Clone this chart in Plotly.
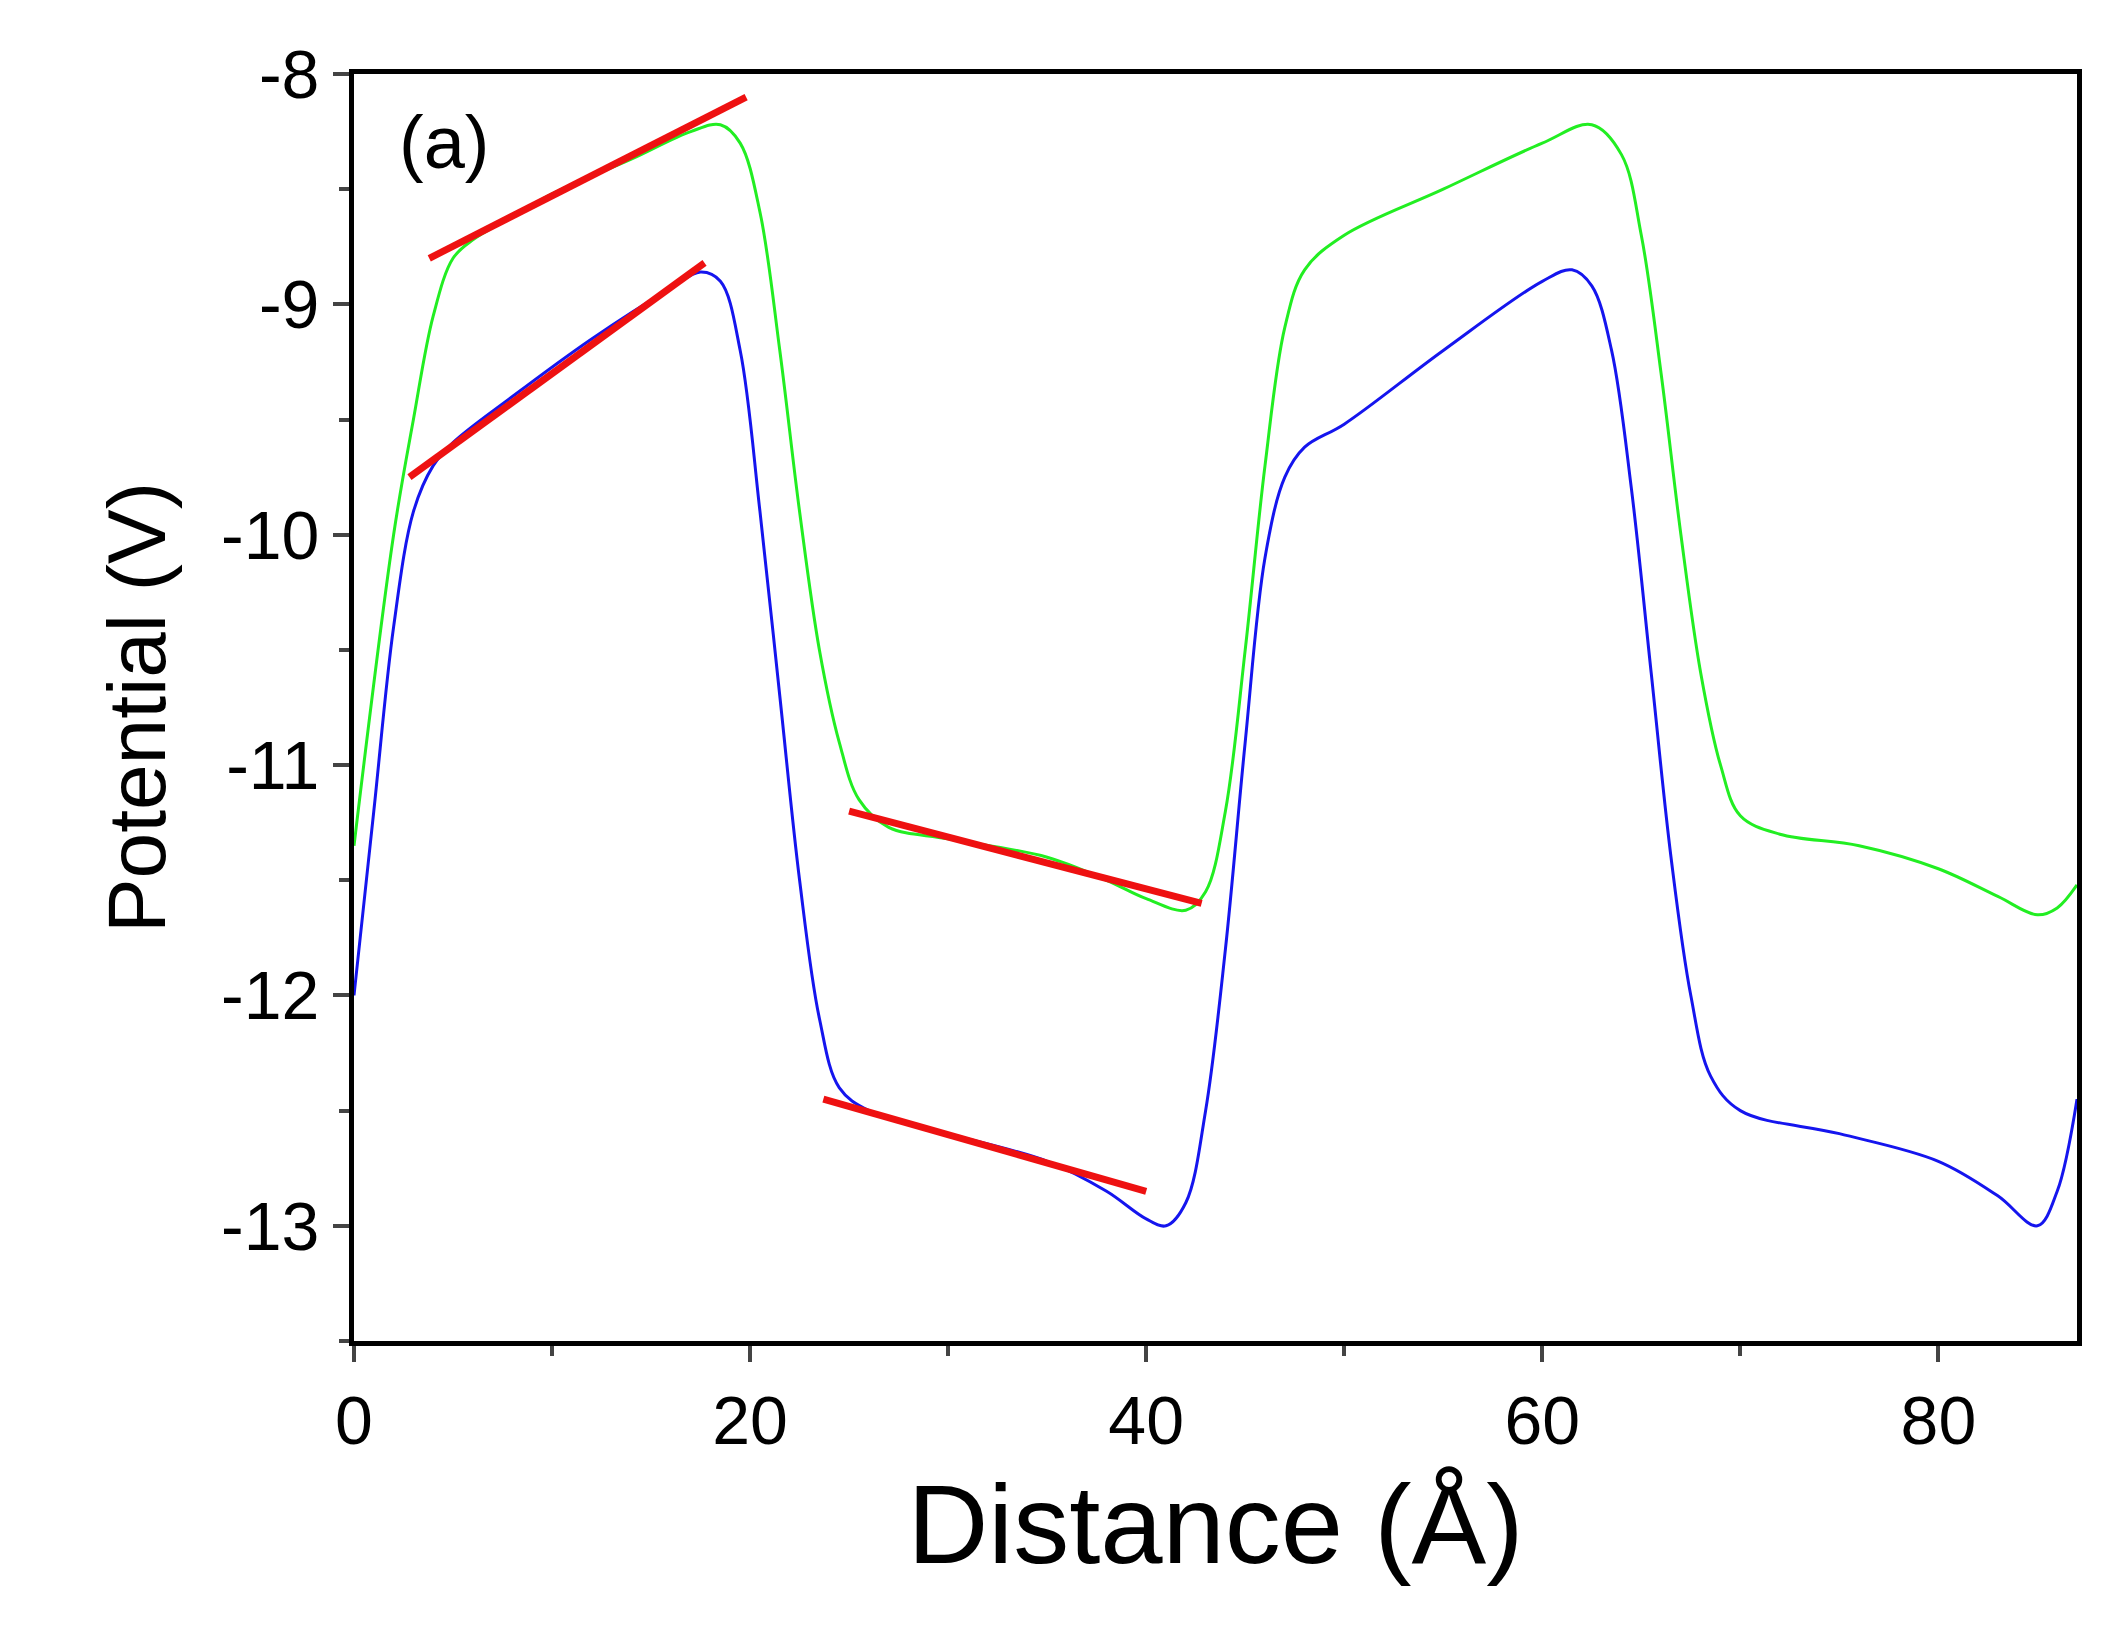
import plotly.graph_objects as go

gx = [0,2,3,4,5,6,8,10,14,17,18.5,19.5,20.5,21.5,22.5,23.5,24.5,25.5,27,30,35,38,40,42,43,44,45,46,47,48,50,55,60,62.5,64,65,66,67,68,69,70,72,76,80,83,85,86,87]
gy = [-11.35,-10.0,-9.5,-9.05,-8.8,-8.72,-8.62,-8.52,-8.37,-8.25,-8.22,-8.3,-8.6,-9.2,-9.9,-10.5,-10.9,-11.15,-11.27,-11.32,-11.4,-11.5,-11.58,-11.63,-11.55,-11.2,-10.5,-9.7,-9.1,-8.85,-8.7,-8.5,-8.3,-8.22,-8.35,-8.7,-9.3,-10.0,-10.6,-11.0,-11.22,-11.3,-11.35,-11.45,-11.57,-11.65,-11.62,-11.52]
bx = [0,1,2,3,4,5,8,12,16,17.5,18.5,19.5,20.5,21.5,22.5,23.5,24.5,26,30,35,38,40,41,42,43,44,45,46,47,48,50,55,60,61.5,62.5,63.5,64.5,65.5,66.5,67.5,68.5,70,75,80,83,85,86,87]
by = [-12.0,-11.2,-10.4,-9.9,-9.7,-9.6,-9.4,-9.15,-8.93,-8.86,-8.9,-9.2,-9.9,-10.7,-11.5,-12.1,-12.4,-12.5,-12.6,-12.72,-12.85,-12.97,-13.0,-12.9,-12.5,-11.8,-10.9,-10.1,-9.75,-9.62,-9.52,-9.2,-8.9,-8.85,-8.92,-9.2,-9.8,-10.6,-11.4,-12.0,-12.35,-12.5,-12.6,-12.72,-12.87,-13.0,-12.85,-12.45]
fits = [((3.8,19.8),(-8.8,-8.1)), ((2.8,17.7),(-9.75,-8.82)), ((25,42.8),(-11.2,-11.6)), ((23.7,40),(-12.45,-12.85))]
xticks = [0, 20, 40, 60, 80]
yticks = [-8, -9, -10, -11, -12, -13]
ylabels = ['-8', '-9', '-10', '-11', '-12', '-13']

fig = go.Figure()
fig.add_trace(go.Scatter(x=gx, y=gy, mode='lines', line=dict(color='#22ee22', width=3, shape='spline')))
fig.add_trace(go.Scatter(x=bx, y=by, mode='lines', line=dict(color='#1515ee', width=3, shape='spline')))
for fx, fy in fits:
    fig.add_trace(go.Scatter(x=list(fx), y=list(fy), mode='lines', line=dict(color='#ee1111', width=7)))

ax = dict(showline=True, linecolor='black', linewidth=5, mirror=True, ticks='outside', ticklen=16, tickwidth=4,
          showgrid=False, zeroline=False, tickfont=dict(size=68, color='black'))
fig.update_layout(width=2110, height=1651, plot_bgcolor='white', paper_bgcolor='white', showlegend=False,
                  font=dict(family='Liberation Sans, Arial', color='black'),
                  margin=dict(l=346, r=41, t=66, b=318),
                  xaxis=dict(ax, range=[0, 87], tickvals=xticks,
                             minor=dict(tickvals=[10,30,50,70], ticks='outside', ticklen=10, tickwidth=4),
                             title=dict(text='Distance (Å)', font=dict(size=112), standoff=30)),
                  yaxis=dict(ax, range=[-13.5, -8], tickvals=yticks, ticktext=ylabels,
                             minor=dict(tickvals=[-8.5,-9.5,-10.5,-11.5,-12.5,-13.5], ticks='outside', ticklen=10, tickwidth=4),
                             title=dict(text='Potential (V)', font=dict(size=82), standoff=30)),
                  annotations=[dict(text='(a)', x=0.025, y=0.98, xref='paper', yref='paper', xanchor='left', yanchor='top',
                                    showarrow=False, font=dict(size=74))])
fig.write_html('out.html')
